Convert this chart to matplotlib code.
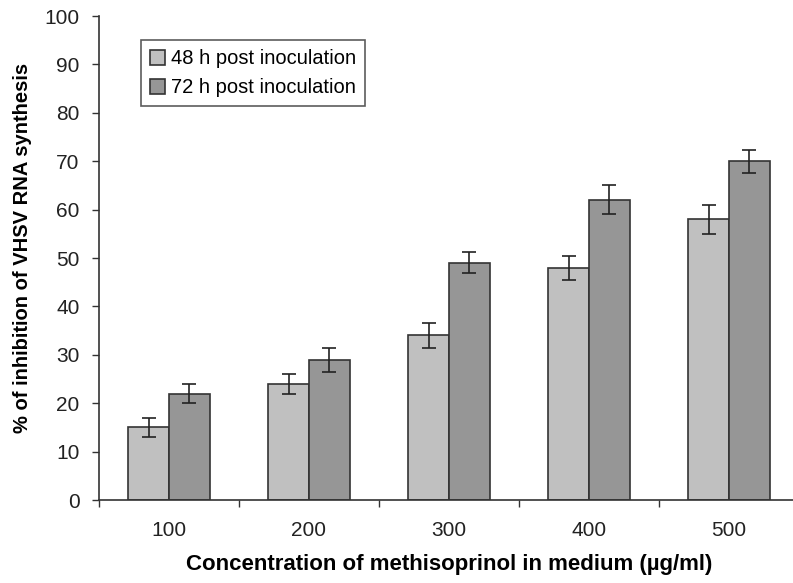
import numpy as np
import matplotlib
matplotlib.use("Agg")
import matplotlib.pyplot as plt

plt.rcParams['font.family'] = ['Liberation Sans', 'DejaVu Sans']

# data
concentrations = ['100', '200', '300', '400', '500']
inhib_48h = [15, 24, 34, 48, 58]
err_48h = [2.0, 2.1, 2.6, 2.5, 3.0]
inhib_72h = [22, 29, 49, 62, 70]
err_72h = [1.9, 2.5, 2.2, 3.0, 2.4]
series_names = ['48 h post inoculation', '72 h post inoculation']

fig = plt.figure(figsize=(7.93, 5.83), dpi=100)
ax = fig.add_axes([99 / 793, 1 - 500 / 583, 700 / 793, 484 / 583])

x = np.arange(len(concentrations))
w = 0.29
err_style = dict(ecolor='#222222', elinewidth=1.2, capsize=5, capthick=1.2)
ax.bar(x - w / 2, inhib_48h, w, yerr=err_48h, color='#c0c0c0',
       edgecolor='#333333', linewidth=1.2, label=series_names[0],
       error_kw=err_style)
ax.bar(x + w / 2, inhib_72h, w, yerr=err_72h, color='#969696',
       edgecolor='#333333', linewidth=1.2, label=series_names[1],
       error_kw=err_style)

ax.set_xlim(-0.5, 4.5)
ax.set_ylim(0, 100)
ax.set_yticks(range(0, 101, 10))
ax.set_xticks(x)
ax.set_xticklabels(concentrations)
ax.set_xticks(np.arange(-0.5, 5.0, 1.0), minor=True)
ax.tick_params(axis='x', which='major', length=0, pad=15, labelsize=15,
               labelcolor='#222222')
ax.tick_params(axis='x', which='minor', length=5, width=1, color='#333333',
               direction='out')
ax.tick_params(axis='y', length=5, width=1, color='#333333', pad=9,
               labelsize=15, labelcolor='#222222')

for side in ['top', 'right']:
    ax.spines[side].set_visible(False)
for side in ['left', 'bottom']:
    ax.spines[side].set_color('#333333')
    ax.spines[side].set_linewidth(1.2)

ax.set_xlabel('Concentration of methisoprinol in medium (\u00b5g/ml)',
              fontsize=16, fontweight='bold', labelpad=10)
ax.set_ylabel('% of inhibition of VHSV RNA synthesis',
              fontsize=14.5, fontweight='bold')
ax.yaxis.set_label_coords(-0.096, 0.52)

leg = ax.legend(loc='upper left', bbox_to_anchor=(0.06, 0.95), fontsize=14.5,
                frameon=True, fancybox=False, handlelength=0.75,
                handleheight=0.75, handletextpad=0.3, borderpad=0.45,
                labelspacing=0.5, borderaxespad=0)
leg.get_frame().set_edgecolor('#333333')
leg.get_frame().set_linewidth(1.2)

fig.savefig('out.png', dpi=100)
